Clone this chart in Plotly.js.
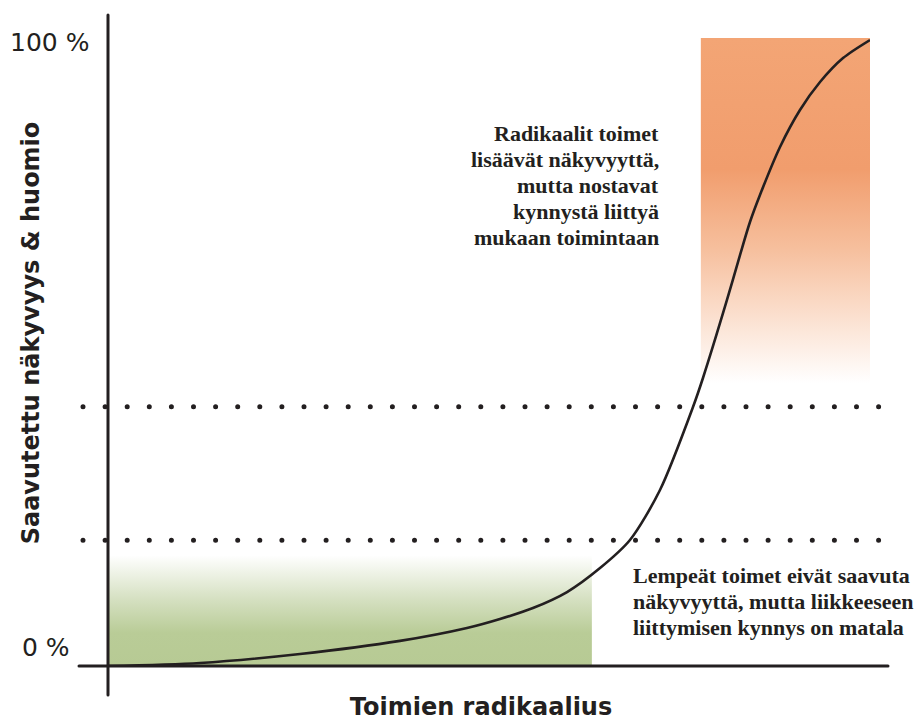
<!DOCTYPE html>
<html>
<head>
<meta charset="utf-8">
<script src="https://cdn.plot.ly/plotly-3.0.1.min.js"></script>
<style>
  html, body { margin: 0; padding: 0; background: #ffffff; }
  #chart { width: 919px; height: 722px; }
  .shapelayer path { stroke-linecap: round; }
</style>
</head>
<body>
<div id="chart"></div>
<script>
// ---- data (x: radicalness 0..100, y: visibility 0..100 %) ----
const curveX = [0, 12.07, 25.20, 38.32, 47.11, 51.44, 55.77, 60.24, 64.57, 68.50, 72.44, 76.77, 78.08, 81.23, 82.94, 84.25, 85.56, 88.19, 90.81, 93.44, 96.46, 100];
const curveY = [0, 0.48, 1.92, 4.01, 6.07, 7.51, 9.27, 11.82, 15.65, 20.13, 28.12, 41.37, 46.01, 58.47, 65.65, 70.93, 75.24, 82.91, 88.82, 93.29, 97.12, 100];

// zones [xStart, xEnd], [yBottom, yTop]
const gentleZoneX = [0, 63.5];
const gentleZoneY = [0, 17.7];
const radicalZoneX = [77.8, 100.1];
const radicalZoneY = [45.2, 100.3];

// threshold levels (dotted lines)
const thresholdLevels = [20.1, 41.4];

// tick labels
const yTickTexts = ["0 %", "100 %"];

const xTitle = "Toimien radikaalius";
const yTitle = "Saavutettu näkyvyys & huomio";
const radicalNote = ["Radikaalit toimet", "lisäävät näkyvyyttä,", "mutta nostavat", "kynnystä liittyä", "mukaan toimintaan"];
const gentleNote = ["Lempeät toimet eivät saavuta", "näkyvyyttä, mutta liikkeeseen", "liittymisen kynnys on matala"];

// ---- layout geometry ----
const W = 919, H = 722;
const M = {l: 92, r: 49, t: 0, b: 56};
const plotW = W - M.l - M.r, plotH = H - M.t - M.b;
const xRange = [-(108 - M.l) / 7.62, 100];
const yRange = [0, plotH / 6.26];
const ink = "#231F20";

// pixel -> paper helpers (for decorations outside the plotting area)
const px = v => (v - M.l) / plotW;
const py = v => (M.t + plotH - v) / plotH;
// data -> paper
const dx = v => (v - xRange[0]) / (xRange[1] - xRange[0]);
const dy = v => (v - yRange[0]) / (yRange[1] - yRange[0]);

const traces = [
  {
    type: "scatter", mode: "lines", hoverinfo: "skip",
    x: [gentleZoneX[0], gentleZoneX[1], gentleZoneX[1], gentleZoneX[0], gentleZoneX[0]],
    y: [gentleZoneY[0], gentleZoneY[0], gentleZoneY[1], gentleZoneY[1], gentleZoneY[0]],
    fill: "toself", line: {width: 0},
    fillgradient: {
      type: "vertical", start: gentleZoneY[0], stop: gentleZoneY[1],
      colorscale: [[0, "#B7CA94"], [0.3, "#B9CC97"], [0.6, "#D5E0C1"], [1, "#FFFFFF"]]
    }
  },
  {
    type: "scatter", mode: "lines", hoverinfo: "skip",
    x: [radicalZoneX[0], radicalZoneX[1], radicalZoneX[1], radicalZoneX[0], radicalZoneX[0]],
    y: [radicalZoneY[0], radicalZoneY[0], radicalZoneY[1], radicalZoneY[1], radicalZoneY[0]],
    fill: "toself", line: {width: 0},
    fillgradient: {
      type: "vertical", start: radicalZoneY[0], stop: radicalZoneY[1],
      colorscale: [[0, "#FFFFFF"], [0.24, "#FAD8C3"], [0.39, "#F6BF9D"], [0.62, "#F19D6D"], [1, "#F3A575"]]
    }
  },
  {
    type: "scatter", mode: "lines", hoverinfo: "skip",
    x: curveX, y: curveY,
    line: {color: ink, width: 2.6, shape: "spline", smoothing: 0.8}
  }
];

const shapes = [
  // x axis line
  {type: "line", xref: "paper", yref: "paper", x0: px(79), x1: px(888), y0: dy(0), y1: dy(0),
   line: {color: ink, width: 3}, layer: "above"},
  // y axis line
  {type: "line", xref: "paper", yref: "paper", x0: dx(0), x1: dx(0), y0: py(695), y1: py(15),
   line: {color: ink, width: 3}, layer: "above"}
];
thresholdLevels.forEach(lv => {
  shapes.push({type: "line", xref: "paper", yref: "paper", x0: px(83), x1: px(900.5), y0: dy(lv), y1: dy(lv),
    line: {color: ink, width: 5, dash: "0px,22.1px"}, layer: "above"});
});

const serif = {family: "Liberation Serif, Times New Roman, serif", size: 22, color: ink, weight: "bold"};
const annotations = [];
radicalNote.forEach((t, i) => {
  annotations.push({xref: "paper", yref: "paper", x: px(660), y: py(133 + i * 26), text: t,
    showarrow: false, xanchor: "right", yanchor: "middle", align: "right", font: serif, borderpad: 0});
});
gentleNote.forEach((t, i) => {
  annotations.push({xref: "paper", yref: "paper", x: px(632), y: py(575 + i * 26), text: t,
    showarrow: false, xanchor: "left", yanchor: "middle", align: "left", font: serif, borderpad: 0});
});
const sansLab = {family: "DejaVu Sans, sans-serif", size: 25, color: ink};
annotations.push({xref: "paper", yref: "paper", x: px(21), y: py(647), text: yTickTexts[0],
  showarrow: false, xanchor: "left", yanchor: "middle", font: sansLab, borderpad: 0});
annotations.push({xref: "paper", yref: "paper", x: px(9), y: py(42), text: yTickTexts[1],
  showarrow: false, xanchor: "left", yanchor: "middle", font: sansLab, borderpad: 0});

const titleFont = {family: "DejaVu Sans, sans-serif", size: 24, color: ink, weight: "bold"};

const layout = {
  width: W, height: H,
  margin: M,
  paper_bgcolor: "#ffffff", plot_bgcolor: "#ffffff",
  showlegend: false,
  xaxis: {range: xRange, showgrid: false, zeroline: false, showline: false, showticklabels: false, ticks: "",
          title: {text: xTitle, font: titleFont, standoff: 32}, fixedrange: true},
  yaxis: {range: yRange, showgrid: false, zeroline: false, showline: false, showticklabels: false, ticks: "",
          title: {text: yTitle, font: titleFont, standoff: 44}, fixedrange: true},
  shapes: shapes,
  annotations: annotations
};

Plotly.newPlot("chart", traces, layout, {staticPlot: true, displayModeBar: false});
</script>
</body>
</html>
